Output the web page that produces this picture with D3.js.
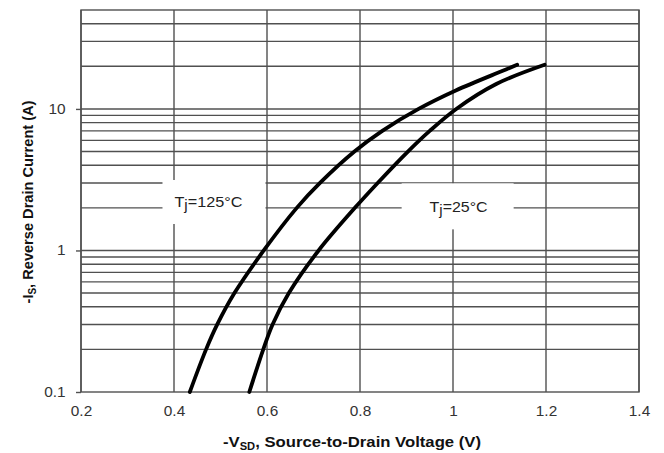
<!DOCTYPE html>
<html>
<head>
<meta charset="utf-8">
<script src="https://cdn.jsdelivr.net/npm/d3@7"></script>
<style>
  html, body { margin: 0; padding: 0; background: #fff; }
  svg { display: block; }
</style>
</head>
<body>
<svg id="chart" width="664" height="453"></svg>
<script>
// Axis ticks
const voltageTicks = [0.2, 0.4, 0.6, 0.8, 1.0, 1.2, 1.4];
const voltageLabels = ["0.2", "0.4", "0.6", "0.8", "1", "1.2", "1.4"];
const currentTicks = [0.1, 1, 10];
const currentLabels = ["0.1", "1", "10"];
const currentGrid = [0.2, 0.3, 0.4, 0.5, 0.6, 0.7, 0.8, 0.9,
                     1, 2, 3, 4, 5, 6, 7, 8, 9,
                     10, 20, 30, 40];

// Tj = 125 °C curve
const vsd125 = [0.434, 0.469, 0.493, 0.530, 0.593, 0.664, 0.714, 0.788, 0.848, 0.926, 1.006, 1.107, 1.138];
const is125  = [0.1,   0.2,   0.3,   0.5,   1,     2,     3,     5,     7,     10,    13.5,  18.6,  20.5];

// Tj = 25 °C curve
const vsd25 = [0.562, 0.592, 0.612, 0.647, 0.711, 0.789, 0.838, 0.903, 0.950, 1.007, 1.093, 1.197];
const is25  = [0.1,   0.2,   0.3,   0.5,   1,     2,     3,     5,     7,     10,    15,    20.5];

const svg = d3.select("#chart");
const W = 664, H = 453;
const margin = { left: 81, right: 25, top: 10, bottom: 61 };
const iw = W - margin.left - margin.right;
const ih = H - margin.top - margin.bottom;
const font = "Liberation Sans, Arial, sans-serif";

const x = d3.scaleLinear().domain([0.2, 1.4]).range([0, iw]);
const y = d3.scaleLog().domain([0.1, 50]).range([ih, 0]);

const g = svg.append("g").attr("transform", `translate(${margin.left},${margin.top})`);
const gridColor = "#505050";

// vertical grid
g.append("g").selectAll("line").data(voltageTicks).join("line")
  .attr("x1", d => x(d)).attr("x2", d => x(d))
  .attr("y1", 0).attr("y2", ih)
  .attr("stroke", gridColor).attr("stroke-width", 1.4);

// horizontal grid
g.append("g").selectAll("line").data(currentGrid).join("line")
  .attr("x1", 0).attr("x2", iw)
  .attr("y1", d => y(d)).attr("y2", d => y(d))
  .attr("stroke", gridColor).attr("stroke-width", 1.4);

// plot frame
g.append("rect").attr("x", 0).attr("y", 0).attr("width", iw).attr("height", ih)
  .attr("fill", "none").attr("stroke", gridColor).attr("stroke-width", 1.4);

// y axis: decade ticks and labels
const yAxis = d3.axisLeft(y).tickValues(currentTicks)
  .tickFormat((d, i) => currentLabels[i]).tickSize(5).tickPadding(9);
const ya = g.append("g").call(yAxis);
ya.select(".domain").remove();
ya.selectAll("line").attr("stroke", gridColor).attr("stroke-width", 1.4);
ya.selectAll("text").attr("font-family", font)
  .attr("font-size", 14).attr("fill", "#333")
  .attr("transform", "scale(1.1,1)");

// x axis labels
const xAxis = d3.axisBottom(x).tickValues(voltageTicks)
  .tickFormat((d, i) => voltageLabels[i]).tickSize(0).tickPadding(14);
const xa = g.append("g").attr("transform", `translate(0,${ih})`).call(xAxis);
xa.select(".domain").remove();
xa.selectAll("text").attr("font-family", font)
  .attr("font-size", 14).attr("fill", "#333")
  .attr("transform", "scale(1.1,1)");

// temperature labels on white boxes over the grid
function tempLabel(cx, cy, bw, bh, tx, temp, len) {
  g.append("rect").attr("x", cx - bw / 2).attr("y", cy - bh / 2)
    .attr("width", bw).attr("height", bh).attr("fill", "#fff");
  const t = g.append("text").attr("x", tx).attr("y", cy + 5.5)
    .attr("text-anchor", "middle")
    .attr("font-family", font)
    .attr("font-size", 15).attr("fill", "#222")
    .attr("textLength", len).attr("lengthAdjust", "spacingAndGlyphs");
  t.append("tspan").text("T");
  t.append("tspan").attr("dy", 3).attr("font-size", 14).text("j");
  t.append("tspan").attr("dy", -3).text("=" + temp + "°C");
}
tempLabel(x(0.486), y(2.2), 103, 44, x(0.474), "125", 68);
tempLabel(x(1.01), y(2.05), 112, 46, x(1.012), "25", 58);

// curves
const line = d3.line().x(d => x(d[0])).y(d => y(d[1])).curve(d3.curveCatmullRom.alpha(0.5));
const series = [d3.zip(vsd125, is125), d3.zip(vsd25, is25)];
g.append("g").selectAll("path").data(series).join("path")
  .attr("d", line).attr("fill", "none").attr("stroke", "#000")
  .attr("stroke-width", 3.8).attr("stroke-linecap", "round");

// axis titles
const xt = svg.append("text").attr("x", 223).attr("y", 447)
  .attr("font-family", font)
  .attr("font-size", 15).attr("font-weight", "bold").attr("fill", "#111")
  .attr("textLength", 258).attr("lengthAdjust", "spacingAndGlyphs");
xt.append("tspan").text("-V");
xt.append("tspan").attr("font-size", 10).attr("dy", 3).text("SD");
xt.append("tspan").attr("dy", -3).text(", Source-to-Drain Voltage (V)");

const yt = svg.append("text").attr("transform", "translate(33,202) rotate(-90)")
  .attr("text-anchor", "middle")
  .attr("font-family", font)
  .attr("font-size", 14.6).attr("font-weight", "bold").attr("fill", "#111");
yt.append("tspan").text("-I");
yt.append("tspan").attr("font-size", 10).attr("dy", 3).text("S");
yt.append("tspan").attr("dy", -3).text(", Reverse Drain Current (A)");
</script>
</body>
</html>
